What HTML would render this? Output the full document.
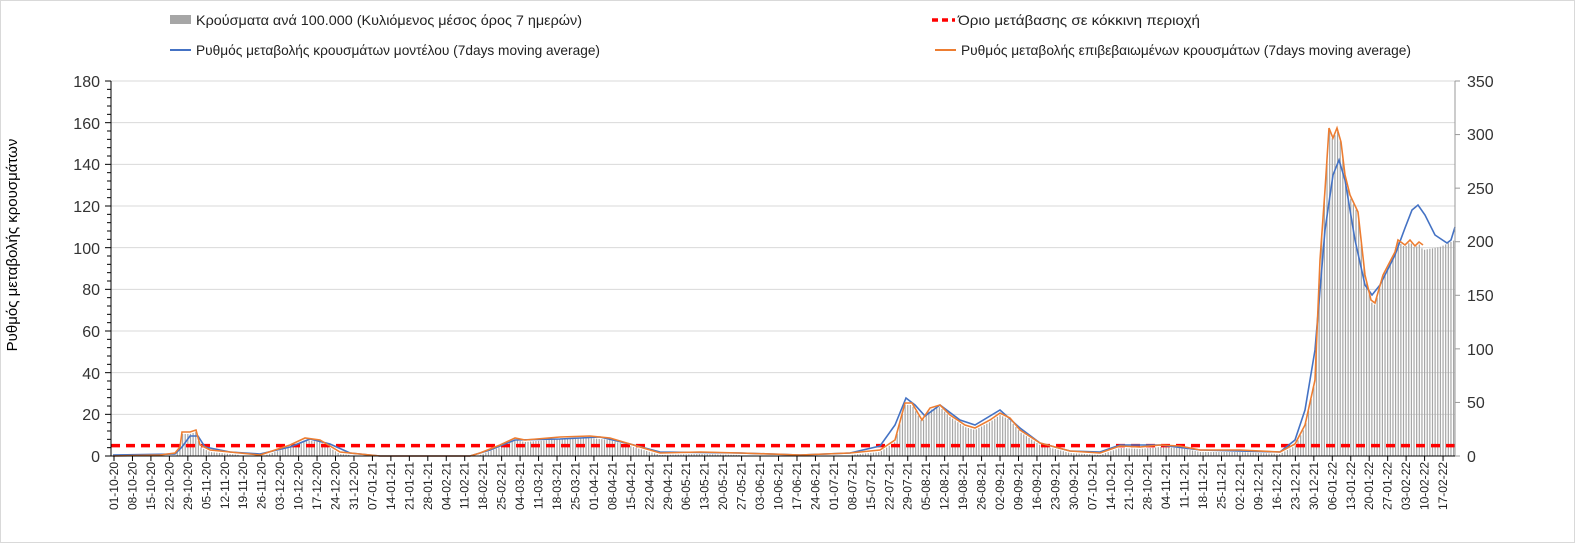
<!DOCTYPE html>
<html><head><meta charset="utf-8"><style>
html,body{margin:0;padding:0;background:#fff;}
svg{display:block;font-family:"Liberation Sans",sans-serif;}
</style></head><body>
<svg id="s" width="1575" height="543" viewBox="0 0 1575 543" xmlns="http://www.w3.org/2000/svg">
<rect x="0.5" y="0.5" width="1574" height="542" fill="#fff" stroke="#d9d9d9"/>
<g id="grid" stroke="#d9d9d9" stroke-width="1"></g>
<g id="bars" stroke="#a6a6a6" stroke-width="1.2"></g>
<line x1="111" y1="445.6" x2="1455" y2="445.6" stroke="#ff0000" stroke-width="3.5" stroke-dasharray="9,6"/>
<polyline id="blue" fill="none" stroke="#4472c4" stroke-width="1.6"/>
<polyline id="orange" fill="none" stroke="#ed7d31" stroke-width="1.6"/>
<g id="axes" stroke="#000" stroke-width="1"></g>
<g font-size="16" fill="#333" text-anchor="end">
<text x="100" y="462">0</text><text x="100" y="420">20</text><text x="100" y="379">40</text><text x="100" y="337">60</text><text x="100" y="295">80</text><text x="100" y="254">100</text><text x="100" y="212">120</text><text x="100" y="170">140</text><text x="100" y="129">160</text><text x="100" y="87">180</text>
</g>
<g font-size="16" fill="#333" text-anchor="start">
<text x="1467" y="462">0</text><text x="1467" y="408">50</text><text x="1467" y="355">100</text><text x="1467" y="301">150</text><text x="1467" y="247">200</text><text x="1467" y="194">250</text><text x="1467" y="140">300</text><text x="1467" y="87">350</text>
</g>
<text font-size="15" fill="#000" text-anchor="middle" transform="translate(17,245) rotate(-90)">Ρυθμός μεταβολής κρουσμάτων</text>
<g id="xl" font-size="12" fill="#222" text-anchor="end">
<text>01-10-20</text><text>08-10-20</text><text>15-10-20</text><text>22-10-20</text><text>29-10-20</text>
<text>05-11-20</text><text>12-11-20</text><text>19-11-20</text><text>26-11-20</text>
<text>03-12-20</text><text>10-12-20</text><text>17-12-20</text><text>24-12-20</text><text>31-12-20</text>
<text>07-01-21</text><text>14-01-21</text><text>21-01-21</text><text>28-01-21</text>
<text>04-02-21</text><text>11-02-21</text><text>18-02-21</text><text>25-02-21</text>
<text>04-03-21</text><text>11-03-21</text><text>18-03-21</text><text>25-03-21</text>
<text>01-04-21</text><text>08-04-21</text><text>15-04-21</text><text>22-04-21</text><text>29-04-21</text>
<text>06-05-21</text><text>13-05-21</text><text>20-05-21</text><text>27-05-21</text>
<text>03-06-21</text><text>10-06-21</text><text>17-06-21</text><text>24-06-21</text>
<text>01-07-21</text><text>08-07-21</text><text>15-07-21</text><text>22-07-21</text><text>29-07-21</text>
<text>05-08-21</text><text>12-08-21</text><text>19-08-21</text><text>26-08-21</text>
<text>02-09-21</text><text>09-09-21</text><text>16-09-21</text><text>23-09-21</text><text>30-09-21</text>
<text>07-10-21</text><text>14-10-21</text><text>21-10-21</text><text>28-10-21</text>
<text>04-11-21</text><text>11-11-21</text><text>18-11-21</text><text>25-11-21</text>
<text>02-12-21</text><text>09-12-21</text><text>16-12-21</text><text>23-12-21</text><text>30-12-21</text>
<text>06-01-22</text><text>13-01-22</text><text>20-01-22</text><text>27-01-22</text>
<text>03-02-22</text><text>10-02-22</text><text>17-02-22</text>
</g>
<!-- legend -->
<rect x="170" y="15" width="21" height="9" fill="#a6a6a6"/>
<text x="196" y="25" font-size="14" fill="#222" textLength="386" lengthAdjust="spacingAndGlyphs">Κρούσματα ανά 100.000 (Κυλιόμενος μέσος όρος 7 ημερών)</text>
<line x1="932" y1="20" x2="955" y2="20" stroke="#ff0000" stroke-width="3.5" stroke-dasharray="6,4"/>
<text x="958" y="25" font-size="14" fill="#222" textLength="242" lengthAdjust="spacingAndGlyphs">Όριο μετάβασης σε κόκκινη περιοχή</text>
<line x1="170" y1="50" x2="191" y2="50" stroke="#4472c4" stroke-width="2"/>
<text x="196" y="55" font-size="14" fill="#222" textLength="404" lengthAdjust="spacingAndGlyphs">Ρυθμός μεταβολής κρουσμάτων μοντέλου (7days moving average)</text>
<line x1="935" y1="50" x2="956" y2="50" stroke="#ed7d31" stroke-width="2"/>
<text x="961" y="55" font-size="14" fill="#222" textLength="450" lengthAdjust="spacingAndGlyphs">Ρυθμός μεταβολής επιβεβαιωμένων κρουσμάτων (7days moving average)</text>
</svg>
<script>
var NS="http://www.w3.org/2000/svg";
function el(p,t,a){var e=document.createElementNS(NS,t);for(var k in a)e.setAttribute(k,a[k]);p.appendChild(e);return e;}
var g=document.getElementById('grid'),ax=document.getElementById('axes');
for(var i=1;i<=9;i++){var y=456-i*41.667;el(g,'line',{x1:111,x2:1455,y1:y,y2:y});}
el(ax,'line',{x1:111,x2:111,y1:81,y2:456});
el(ax,'line',{x1:1455,x2:1455,y1:81,y2:456,stroke:'#999'});
el(ax,'line',{x1:111,x2:1455,y1:456,y2:456});
for(var i=0;i<=45;i++){var y=456-i*8.333;el(ax,'line',{x1:i%5==0?105:107,x2:111,y1:y,y2:y});}
for(var i=0;i<=7;i++){var y=456-i*53.57;el(ax,'line',{x1:1455,x2:1460,y1:y,y2:y,stroke:'#999'});}
var X=function(d){return 114+d*2.637;};
var xl=document.getElementById('xl').children;
for(var i=0;i<xl.length;i++){var x=X(i*7);xl[i].setAttribute('transform','translate('+(x+4)+',462) rotate(-90)');el(ax,'line',{x1:x,x2:x,y1:456,y2:461});}
var O=[[113,456],[160,455],[175,453],[180,447],[182,432],[190,432],[196,430],[200,445],[210,450],[230,452],[260,455],[290,445],[305,438],[320,440],[340,452],[380,456],[470,456],[480,453],[500,445],[515,438],[525,440],[560,437],[590,436],[610,438],[630,444],[660,453],[700,452],[740,453],[800,455],[850,453],[880,450],[895,440],[905,403],[912,403],[922,420],[930,408],[940,405],[950,415],[965,425],[975,428],[990,420],[1000,413],[1010,418],[1020,430],[1040,443],[1070,451],[1100,453],[1120,446],[1140,447],[1160,445],[1180,446],[1200,450],[1240,450],[1280,452],[1295,444],[1305,425],[1315,380],[1320,260],[1325,190],[1329,128],[1333,138],[1337,128],[1341,142],[1345,175],[1350,195],[1358,212],[1365,275],[1371,300],[1375,303],[1383,275],[1395,252],[1398,240],[1405,245],[1410,240],[1415,246],[1419,242],[1423,245]];
var B=[[113,455],[175,454],[182,447],[190,436],[198,436],[205,447],[230,452],[260,454],[290,447],[310,439],[330,444],[350,453],[380,456],[470,456],[490,450],[515,440],[560,439],[600,437],[630,444],[660,452],[740,453],[800,455],[850,453],[880,446],[895,425],[906,398],[915,405],[925,416],[940,405],[960,420],[975,425],[1000,410],[1020,428],[1040,443],[1070,451],[1100,452],[1120,445],[1160,445],[1200,450],[1280,452],[1295,440],[1305,410],[1315,350],[1325,230],[1333,175],[1339,160],[1345,180],[1355,240],[1365,285],[1372,295],[1380,285],[1395,255],[1405,228],[1412,210],[1418,205],[1425,215],[1435,235],[1447,243],[1451,240],[1455,227]];
function ps(a){return a.map(function(p){return p.join(',');}).join(' ');}
document.getElementById('orange').setAttribute('points',ps(O));
document.getElementById('blue').setAttribute('points',ps(B));
var BB=O.slice(0,O.length-1).concat([[1423,248],[1440,245],[1455,238]]);
function interp(a,x){for(var i=1;i<a.length;i++)if(a[i][0]>=x){var t=(x-a[i-1][0])/(a[i][0]-a[i-1][0]);return a[i-1][1]+t*(a[i][1]-a[i-1][1]);}return a[a.length-1][1];}
var bg=document.getElementById('bars');
for(var d=0;d<=508;d++){var x=X(d);if(x>1454)break;var y=interp(BB,x)+2;if(y<455)el(bg,'line',{x1:x,x2:x,y1:y,y2:456});}
</script>
</body></html>
